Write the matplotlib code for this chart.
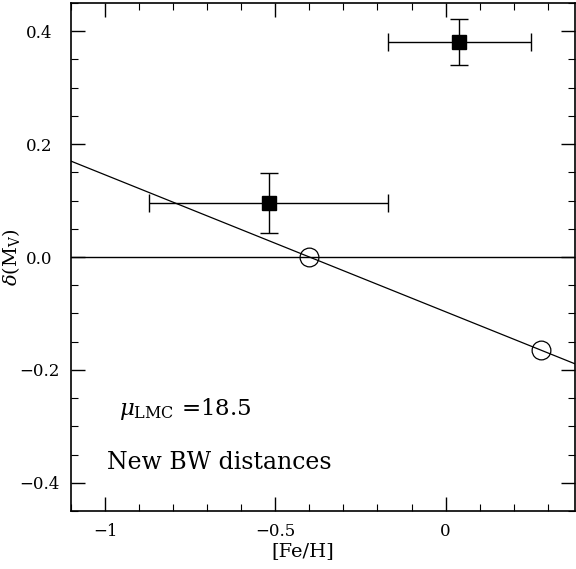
import numpy as np
import matplotlib
matplotlib.use('Agg')
import matplotlib.pyplot as plt
from matplotlib.ticker import MultipleLocator

# Observed points (filled squares) with errors
feh_obs = [-0.52, 0.04]
dmv_obs = [0.095, 0.381]
feh_err = [0.35, 0.21]
dmv_err = [0.053, 0.040]

# Model points (open circles), the line runs through them
feh_mod = [-0.40, 0.28]
dmv_mod = [0.0, -0.165]

xticks = [-1, -0.5, 0]
xticklabels = ['\u22121', '\u22120.5', '0']
yticks = [-0.4, -0.2, 0.0, 0.2, 0.4]
yticklabels = ['\u22120.4', '\u22120.2', '0.0', '0.2', '0.4']

plt.rcParams['font.family'] = 'DejaVu Serif'
plt.rcParams['mathtext.fontset'] = 'dejavuserif'

fig = plt.figure(figsize=(5.76, 5.69), dpi=100)
ax = fig.add_axes([71/576, 58/569, 504/576, 508/569])

ax.axhline(0.0, color='black', lw=1.0)
ax.axline((feh_mod[0], dmv_mod[0]), (feh_mod[1], dmv_mod[1]), color='black', lw=0.9)

ax.errorbar(feh_obs, dmv_obs, xerr=feh_err, yerr=dmv_err, fmt='s', color='black',
            ms=10, elinewidth=1.0, capsize=6.5, capthick=1.0)
ax.plot(feh_mod, dmv_mod, 'o', mfc='none', mec='black', ms=13.5, mew=0.9)

ax.set_xlim(-1.1, 0.38)
ax.set_ylim(-0.45, 0.45)
ax.xaxis.set_minor_locator(MultipleLocator(0.1))
ax.yaxis.set_minor_locator(MultipleLocator(0.05))
ax.set_xticks(xticks)
ax.set_xticklabels(xticklabels)
ax.set_yticks(yticks)
ax.set_yticklabels(yticklabels)
ax.tick_params(which='both', direction='in', top=True, right=True, labelsize=12)
ax.tick_params(axis='y', which='major', pad=23)
ax.tick_params(axis='x', which='major', pad=9)
ax.tick_params(which='major', length=10, width=1.0)
ax.tick_params(which='minor', length=5, width=0.8)
for lab in ax.get_yticklabels():
    lab.set_horizontalalignment('center')
for s in ax.spines.values():
    s.set_linewidth(1.2)

ax.set_xlabel('[Fe/H]', fontsize=14)
ax.xaxis.set_label_coords(0.46, -0.062)
ax.set_ylabel(r'$\delta$(M$_\mathrm{V}$)', fontsize=14)
ax.yaxis.set_label_coords(-0.097, 0.5)

ax.text(-0.96, -0.27, r'$\mu_{\rm LMC}$ =18.5', fontsize=16.5, va='center')
ax.text(-0.995, -0.364, 'New BW distances', fontsize=17, va='center')

fig.savefig('out.png', dpi=100)
